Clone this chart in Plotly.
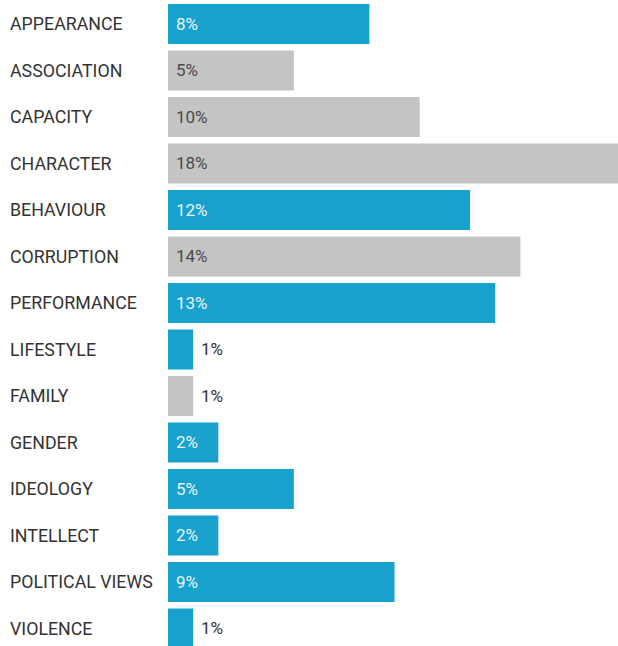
import plotly.graph_objects as go

categories = ["APPEARANCE", "ASSOCIATION", "CAPACITY", "CHARACTER", "BEHAVIOUR",
              "CORRUPTION", "PERFORMANCE", "LIFESTYLE", "FAMILY", "GENDER",
              "IDEOLOGY", "INTELLECT", "POLITICAL VIEWS", "VIOLENCE"]
values = [8, 5, 10, 18, 12, 14, 13, 1, 1, 2, 5, 2, 9, 1]
highlighted = [True, False, False, False, True, False, True, True, False, True,
               True, True, True, True]

BLUE = "#18a1cd"
GREY = "#c4c4c4"
FONT = "Roboto, Arial, sans-serif"

W, H = 618, 646
LEFT = 168
plot_w = W - LEFT
pitch = 46.5
first_center = 24
px_per_unit = 25.17

positions = list(range(len(categories)))
colors = [BLUE if h else GREY for h in highlighted]

fig = go.Figure(go.Bar(
    x=values, y=positions, orientation="h",
    marker=dict(color=colors, line=dict(width=0)),
    width=40 / pitch, hoverinfo="skip",
))

annotations = []
for i, (cat, v, h) in enumerate(zip(categories, values, highlighted)):
    annotations.append(dict(
        x=(8 - LEFT) / plot_w, xref="paper", y=i, yref="y",
        text=cat, showarrow=False, xanchor="left", yanchor="middle",
        yshift=0.5,
        font=dict(family=FONT, size=17.8, color="#333333"),
    ))
    inside = v >= 2
    annotations.append(dict(
        x=0 if inside else v, xref="x", y=i, yref="y",
        text=f"{v}%", showarrow=False, xanchor="left", yanchor="middle",
        xshift=6, yshift=0.5,
        font=dict(family=FONT, size=17,
                  color=("#eaf5fa" if h else "#4a4a4a") if inside else "#333333"),
    ))

top = -first_center / pitch
bottom = top + H / pitch

fig.update_layout(
    width=W, height=H,
    margin=dict(l=LEFT, r=0, t=0, b=0),
    paper_bgcolor="white", plot_bgcolor="white",
    showlegend=False,
    xaxis=dict(range=[0, plot_w / px_per_unit], visible=False, fixedrange=True),
    yaxis=dict(range=[bottom, top], visible=False, fixedrange=True),
    annotations=annotations,
)

fig.write_html("out.html", config={"displayModeBar": False})
